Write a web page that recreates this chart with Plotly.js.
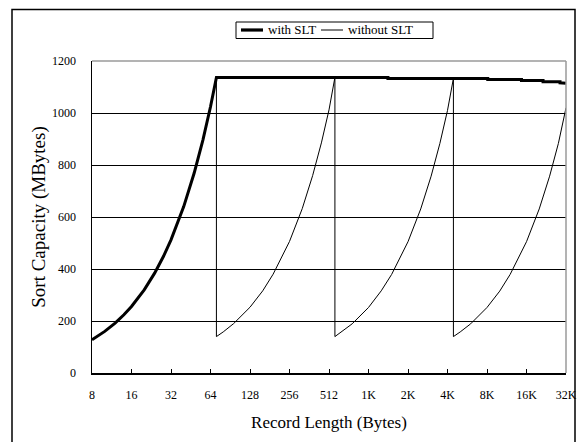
<!DOCTYPE html>
<html>
<head>
<meta charset="utf-8">
<script src="https://cdn.plot.ly/plotly-3.0.1.min.js"></script>
<style>html,body{margin:0;padding:0;background:#fff;}#chart{width:579px;height:442px;}</style>
</head>
<body>
<div id="chart"></div>
<script>
// Tick labels (record length in bytes)
const tickValues = [8, 16, 32, 64, 128, 256, 512, 1024, 2048, 4096, 8192, 16384, 32768];
const tickLabels = ["8", "16", "32", "64", "128", "256", "512", "1K", "2K", "4K", "8K", "16K", "32K"];

// Series names
const seriesNames = ["with SLT", "without SLT"];

// "with SLT" series
const withX = [8, 10, 12, 14, 16, 20, 24, 28, 32, 40, 48, 56, 64, 71,
               1440, 1440, 8300, 8300, 15000, 15000, 21900, 21900, 29500, 29500, 32768];
const withY = [128, 160, 192, 224, 256, 320, 384, 448, 512, 640, 768, 896, 1024, 1137,
               1137, 1133, 1133, 1129, 1129, 1125, 1125, 1120, 1120, 1116, 1114];

// "without SLT" series
const withoutX = [8, 10, 12, 14, 16, 20, 24, 28, 32, 40, 48, 56, 64, 71,
                  71, 80, 96, 128, 160, 192, 256, 320, 384, 448, 512, 568,
                  568, 640, 768, 1024, 1280, 1536, 2048, 2560, 3072, 3584, 4096, 4544,
                  4544, 5120, 6144, 8192, 10240, 12288, 16384, 20480, 24576, 28672, 32768];
const withoutY = [128, 160, 192, 224, 256, 320, 384, 448, 512, 640, 768, 896, 1024, 1137,
                  140, 158, 190, 253, 316, 380, 506, 632, 759, 885, 1012, 1137,
                  140, 158, 189, 252, 316, 379, 505, 631, 757, 883, 1010, 1133,
                  140, 158, 189, 252, 315, 379, 505, 631, 757, 883, 1020];

const font = "Liberation Serif, Times New Roman, serif";

const traces = [
  {x: withX, y: withY, name: seriesNames[0], type: "scatter", mode: "lines",
   line: {color: "#000", width: 3}, showlegend: false},
  {x: withoutX, y: withoutY, name: seriesNames[1], type: "scatter", mode: "lines",
   line: {color: "#000", width: 1}, showlegend: false}
];

const L = 92, R = 13, T = 61, B = 69;
const pw = 579 - L - R, ph = 442 - T - B;
function px(x) { return (x - L) / pw; }
function py(y) { return (442 - B - y) / ph; }

const legY = py(30);

const layout = {
  width: 579, height: 442,
  margin: {l: L, r: R, t: T, b: B, pad: 0},
  paper_bgcolor: "#fff", plot_bgcolor: "#fff",
  font: {family: font, color: "#000", size: 12},
  showlegend: false,
  xaxis: {
    type: "log", range: [Math.log10(8), Math.log10(32768)],
    tickmode: "array", tickvals: tickValues, ticktext: tickLabels,
    ticks: "inside", ticklen: 4, tickcolor: "#000", tickwidth: 1,
    showgrid: false, zeroline: false,
    showline: true, linecolor: "#000", linewidth: 1.5,
    ticklabelstandoff: 10,
    tickfont: {family: font, size: 12, color: "#000"},
    title: {text: "Record Length (Bytes)", font: {family: font, size: 17, color: "#000"}, standoff: 15}
  },
  yaxis: {
    range: [0, 1200], dtick: 200, tick0: 0,
    ticks: "", showgrid: true, gridcolor: "#000", gridwidth: 1,
    zeroline: false, showline: true, linecolor: "#000", linewidth: 1.5,
    ticklabelstandoff: 12,
    tickfont: {family: font, size: 12, color: "#000"},
    title: {text: "Sort Capacity (MBytes)", font: {family: font, size: 19, color: "#000"}, standoff: 1}
  },
  annotations: [
    {xref: "paper", yref: "paper", x: px(266), y: legY, xanchor: "left", yanchor: "middle",
     text: seriesNames[0], showarrow: false, font: {family: font, size: 13, color: "#000"}},
    {xref: "paper", yref: "paper", x: px(346), y: legY, xanchor: "left", yanchor: "middle",
     text: seriesNames[1], showarrow: false, font: {family: font, size: 13, color: "#000"}}
  ],
  shapes: [
    // plot area top and right (gray)
    {type: "line", xref: "paper", yref: "paper", x0: 0, x1: 1, y0: 1, y1: 1, line: {color: "#9a9a9a", width: 1.5}},
    {type: "line", xref: "paper", yref: "paper", x0: 1, x1: 1, y0: 0, y1: 1, line: {color: "#9a9a9a", width: 1.5}},
    // outer frame
    {type: "rect", xref: "paper", yref: "paper", x0: px(12), x1: px(575), y0: py(9.5), y1: py(460),
     line: {color: "#000", width: 1.5}, fillcolor: "rgba(0,0,0,0)", layer: "above"},
    // legend box and samples
    {type: "rect", xref: "paper", yref: "paper", x0: px(236), x1: px(433), y0: py(22), y1: py(38.5),
     line: {color: "#000", width: 1}, fillcolor: "#fff"},
    {type: "line", xref: "paper", yref: "paper", x0: px(241), x1: px(263), y0: legY, y1: legY,
     line: {color: "#000", width: 3.2}},
    {type: "line", xref: "paper", yref: "paper", x0: px(321), x1: px(343), y0: legY, y1: legY,
     line: {color: "#000", width: 1}}
  ]
};

Plotly.newPlot("chart", traces, layout, {displayModeBar: false, staticPlot: true});
</script>
</body>
</html>
